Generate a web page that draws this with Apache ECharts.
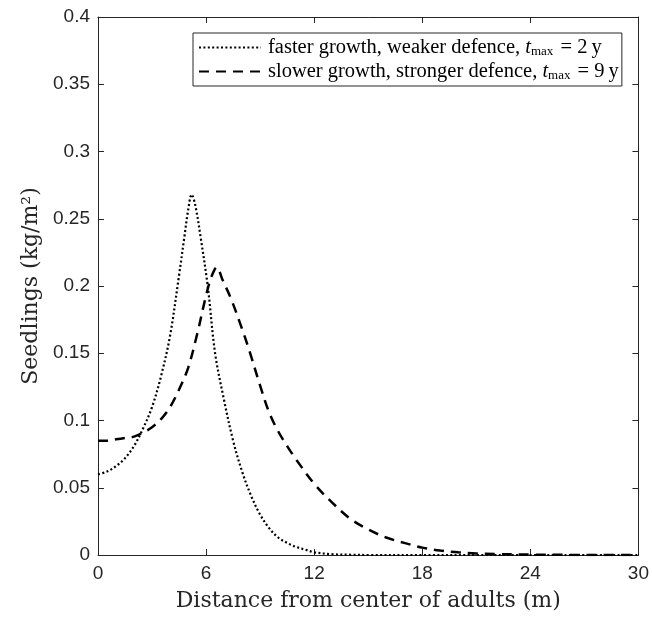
<!DOCTYPE html>
<html>
<head>
<meta charset="utf-8">
<script src="https://cdn.jsdelivr.net/npm/echarts@6/dist/echarts.min.js"></script>
<style>html,body{margin:0;padding:0;background:#fff}#c{width:652px;height:620px}</style>
</head>
<body>
<div id="c"></div>
<script>
// Faster growth, weaker defence (dotted)
var xFast = [0,0.5,1,1.5,2,2.5,3,3.5,4,4.5,4.8,5,5.2,5.4,5.7,6.1,6.5,7,7.5,8,8.5,9,9.5,10,10.5,11,11.5,12,13,14,15,18,21,24,27,30];
var yFast = [0.060,0.062,0.066,0.072,0.081,0.094,0.110,0.133,0.163,0.208,0.237,0.256,0.268,0.260,0.236,0.199,0.150,0.115,0.085,0.062,0.044,0.030,0.020,0.013,0.009,0.006,0.004,0.002,0.0006,0.0002,0,0,0,0,0,0];
// Slower growth, stronger defence (dashed)
var xSlow = [0,0.5,1,1.5,2,2.5,3,3.5,4,4.5,5,5.5,6,6.3,6.6,6.9,7.4,8,8.4,9,9.5,10,10.5,11,12,13,14,15,16,17,18,19,20,21,22,24,26,28,30];
var ySlow = [0.085,0.085,0.086,0.087,0.088,0.091,0.095,0.101,0.110,0.123,0.139,0.164,0.193,0.207,0.214,0.205,0.190,0.168,0.152,0.126,0.106,0.092,0.081,0.071,0.053,0.039,0.027,0.019,0.013,0.009,0.0055,0.0033,0.002,0.0012,0.0007,0.0003,0.0001,0,0];
var xTicks = [0,6,12,18,24,30];
var yTicks = [0,0.05,0.1,0.15,0.2,0.25,0.3,0.35,0.4];
var names = ['faster growth, weaker defence', 'slower growth, stronger defence'];
var tmax = ['2', '9'];

function pairs(xs, ys){ return xs.map(function(x,i){ return [x, ys[i]]; }); }

var axisCol = '#262626';
var chart = echarts.init(document.getElementById('c'), null, {renderer:'canvas'});
var tickFont = {fontFamily:'Liberation Sans', fontSize:19, color:axisCol};
var serif = 'DejaVu Serif';
var lserif = 'Liberation Serif';

chart.setOption({
  animation:false,
  backgroundColor:'#fff',
  grid:{left:98, right:12, top:17, bottom:65, containLabel:false},
  legend:{
    left:193, top:33, orient:'vertical',
    itemWidth:62, itemHeight:14, itemGap:3,
    padding:[4,3,4,5],
    borderColor:axisCol, borderWidth:1, backgroundColor:'#fff',
    itemStyle:{opacity:0},
    data:names,
    formatter:function(n){ var k = names.indexOf(n); return '{g|}{a|'+n+', }{i|t}{s|max}{a| = '+tmax[k]+'\u2009y}'; },
    textStyle:{
      fontFamily:lserif, fontSize:20.5, lineHeight:18, color:'#000',
      rich:{
        g:{width:2, fontSize:10, lineHeight:18},
        a:{fontFamily:lserif, fontSize:20.5, lineHeight:18, color:'#000'},
        i:{fontFamily:lserif, fontSize:20.5, lineHeight:18, fontStyle:'italic', color:'#000'},
        s:{fontFamily:lserif, fontSize:13, lineHeight:10, color:'#000', padding:[8,2,0,0]}
      }
    }
  },
  xAxis:[{
    type:'value', min:0, max:30, interval:6,
    name:'Distance from center of adults (m)', nameLocation:'middle', nameGap:35,
    nameTextStyle:{fontFamily:serif, fontSize:22, color:axisCol},
    axisLine:{show:true, lineStyle:{color:axisCol, width:1}},
    axisTick:{show:true, inside:true, length:6, lineStyle:{color:axisCol}},
    axisLabel:Object.assign({margin:9, formatter:function(v){return xTicks.indexOf(v)>=0?String(v):'';}}, tickFont),
    splitLine:{show:false}
  },{
    type:'value', min:0, max:30, interval:6, position:'top',
    axisLine:{show:true, onZero:false, lineStyle:{color:axisCol, width:1}},
    axisTick:{show:true, inside:true, length:6, lineStyle:{color:axisCol}},
    axisLabel:{show:false}, splitLine:{show:false}
  }],
  yAxis:[{
    type:'value', min:0, max:0.4, interval:0.05,
    name:'Seedlings (kg/m\u00b2)', nameLocation:'middle', nameGap:56, nameRotate:90,
    nameTextStyle:{fontFamily:serif, fontSize:22, color:axisCol},
    axisLine:{show:true, lineStyle:{color:axisCol, width:1}},
    axisTick:{show:true, inside:true, length:6, lineStyle:{color:axisCol}},
    axisLabel:Object.assign({margin:8, formatter:function(v){ var t = yTicks.find(function(q){return Math.abs(q-v)<1e-9;}); return t===undefined?'':String(t);}}, tickFont),
    splitLine:{show:false}
  },{
    type:'value', min:0, max:0.4, interval:0.05, position:'right',
    axisLine:{show:true, onZero:false, lineStyle:{color:axisCol, width:1}},
    axisTick:{show:true, inside:true, length:6, lineStyle:{color:axisCol}},
    axisLabel:{show:false}, splitLine:{show:false}
  }],
  series:[{
    name:names[0], type:'line', data:pairs(xFast,yFast), smooth:0.35, symbol:'none',
    lineStyle:{color:'#000', width:2.2, type:[2,2.4]}, itemStyle:{color:'#000'}
  },{
    name:names[1], type:'line', data:pairs(xSlow,ySlow), smooth:0.35, symbol:'none',
    lineStyle:{color:'#000', width:2.5, type:[10,7]}, itemStyle:{color:'#000'}
  }]
});
</script>
</body>
</html>
